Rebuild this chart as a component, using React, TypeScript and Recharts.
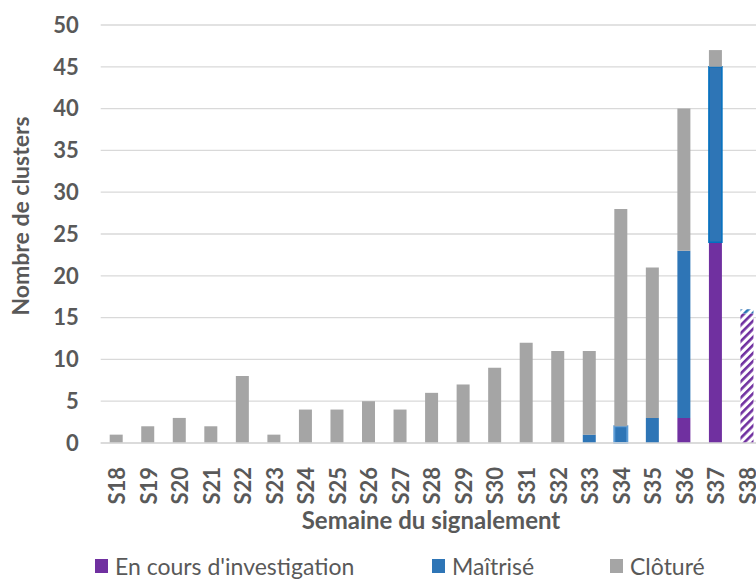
import { BarChart, Bar, XAxis, YAxis, CartesianGrid, Legend, Cell, Label } from "recharts";

const weeks = ["S18", "S19", "S20", "S21", "S22", "S23", "S24", "S25", "S26", "S27", "S28", "S29", "S30", "S31", "S32", "S33", "S34", "S35", "S36", "S37", "S38"];
const enCours = [0, 0, 0, 0, 0, 0, 0, 0, 0, 0, 0, 0, 0, 0, 0, 0, 0, 0, 3, 24, 15.5];
const maitrise = [0, 0, 0, 0, 0, 0, 0, 0, 0, 0, 0, 0, 0, 0, 0, 1, 2, 3, 20, 21, 0.5];
const cloture = [1, 2, 3, 2, 8, 1, 4, 4, 5, 4, 6, 7, 9, 12, 11, 10, 26, 18, 17, 2, 0];
const yTicks = [0, 5, 10, 15, 20, 25, 30, 35, 40, 45, 50];
const seriesNames = ["En cours d'investigation", "Maîtrisé", "Clôturé"];

const PURPLE = "#7030A0";
const BLUE = "#2E75B6";
const GRAY = "#A5A5A5";
const TEXT = "#595959";
const FONT = "Lato, 'Noto Sans', sans-serif";
const partialWeek = "S38";

const data = weeks.map((w, i) => ({
  week: w,
  enCours: enCours[i],
  maitrise: maitrise[i],
  cloture: cloture[i],
}));

const legendColors = [PURPLE, BLUE, GRAY];
const legendLeft = [95, 432, 610];

function WeekTick({ x, y, payload }: any) {
  return (
    <text
      transform={`translate(${x},${y + 22}) rotate(-90)`}
      textAnchor="end"
      dominantBaseline="central"
      fontFamily={FONT}
      fontSize={22}
      fontWeight={700}
      fill={TEXT}
    >
      {payload.value}
    </text>
  );
}

function renderLegend() {
  return (
    <div style={{ position: "relative", width: 770, height: 38, fontFamily: FONT, fontSize: 23, color: TEXT }}>
      {seriesNames.map((name, i) => (
        <div key={name} style={{ position: "absolute", left: legendLeft[i], top: 11, height: 24, display: "flex", alignItems: "center", whiteSpace: "nowrap", lineHeight: "24px" }}>
          <span style={{ display: "inline-block", width: 13, height: 14, background: legendColors[i], marginRight: 7 }} />
          <span>{name}</span>
        </div>
      ))}
    </div>
  );
}

export default function App() {
  return (
    <div style={{ position: "absolute", left: 0, top: 0, width: 756, height: 581, overflow: "hidden", background: "#fff" }}>
      <BarChart width={770} height={581} data={data} barSize={13} margin={{ top: 25, right: 7, left: 0, bottom: 0 }}>
        <defs>
          <pattern id="hatchPurple" patternUnits="userSpaceOnUse" width={5.7} height={5.7} patternTransform="rotate(45)">
            <rect x={0} y={0} width={5.7} height={5.7} fill="#fff" />
            <rect x={0} y={0} width={2.6} height={5.7} fill={PURPLE} />
          </pattern>
          <pattern id="hatchBlue" patternUnits="userSpaceOnUse" width={5.7} height={5.7} patternTransform="rotate(45)">
            <rect x={0} y={0} width={5.7} height={5.7} fill="#fff" />
            <rect x={0} y={0} width={2.6} height={5.7} fill={BLUE} />
          </pattern>
        </defs>
        <CartesianGrid vertical={false} stroke="#D9D9D9" strokeWidth={1.3} />
        <XAxis
          dataKey="week"
          interval={0}
          tickLine={false}
          tickSize={0}
          axisLine={{ stroke: "#D9D9D9", strokeWidth: 1.3 }}
          height={100}
          tick={<WeekTick />}
        >
          <Label
            content={() => (
              <text x={431} y={519} textAnchor="middle" dominantBaseline="central" fontFamily={FONT} fontSize={24} fontWeight={700} fill={TEXT}>
                Semaine du signalement
              </text>
            )}
          />
        </XAxis>
        <YAxis
          width={100.7}
          domain={[0, 50]}
          ticks={yTicks}
          interval={0}
          tickLine={false}
          axisLine={false}
          tickMargin={16}
          tick={{ fontFamily: FONT, fontSize: 22, fontWeight: 700, fill: TEXT }}
        >
          <Label
            content={() => (
              <text transform="translate(20,216) rotate(-90)" textAnchor="middle" dominantBaseline="central" fontFamily={FONT} fontSize={23} fontWeight={700} fill={TEXT}>
                Nombre de clusters
              </text>
            )}
          />
        </YAxis>
        <Legend verticalAlign="bottom" content={renderLegend} wrapperStyle={{ left: 0, width: 770 }} />
        <Bar dataKey="enCours" name={seriesNames[0]} stackId="a" fill={PURPLE} isAnimationActive={false}>
          {data.map((d) => (
            <Cell key={d.week} fill={d.week === partialWeek ? "url(#hatchPurple)" : PURPLE} />
          ))}
        </Bar>
        <Bar dataKey="maitrise" name={seriesNames[1]} stackId="a" fill={BLUE} isAnimationActive={false}>
          {data.map((d) => (
            <Cell
              key={d.week}
              fill={d.week === partialWeek ? "url(#hatchBlue)" : BLUE}
              stroke={d.week === "S34" ? "#5B9BD5" : d.week === "S37" ? "#0070C0" : "none"}
              strokeWidth={d.week === "S34" ? 2 : 1.5}
            />
          ))}
        </Bar>
        <Bar dataKey="cloture" name={seriesNames[2]} stackId="a" fill={GRAY} isAnimationActive={false} />
      </BarChart>
    </div>
  );
}
